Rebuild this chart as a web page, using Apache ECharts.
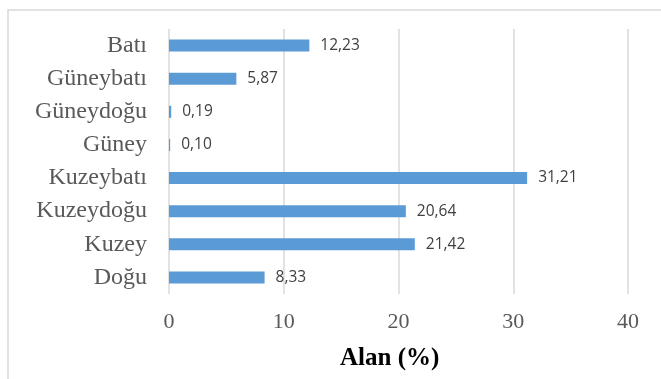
<!DOCTYPE html>
<html>
<head>
<meta charset="utf-8">
<script src="https://cdn.jsdelivr.net/npm/echarts@6/dist/echarts.min.js"></script>
<style>
  html, body { margin: 0; padding: 0; background: #fff; }
  #chart { width: 661px; height: 379px; }
</style>
</head>
<body>
<div id="chart"></div>
<script>
// Directions, bottom to top as drawn on the category axis
const categories = ['Doğu', 'Kuzey', 'Kuzeydoğu', 'Kuzeybatı', 'Güney', 'Güneydoğu', 'Güneybatı', 'Batı'];
const areaShare = [8.33, 21.42, 20.64, 31.21, 0.10, 0.19, 5.87, 12.23];
const xTicks = [0, 10, 20, 30, 40];

const chart = echarts.init(document.getElementById('chart'));
chart.setOption({
  backgroundColor: '#fff',
  animation: false,
  graphic: [
    {
      type: 'polyline',
      shape: { points: [[8, 379], [8, 10], [661, 10]] },
      style: { stroke: '#d9d9d9', lineWidth: 1.5, fill: null }
    },
    {
      type: 'text',
      left: 340, top: 346,
      style: {
        text: 'Alan (%)',
        font: 'bold 25px "Liberation Serif", "Times New Roman", serif',
        fill: '#000'
      }
    }
  ],
  grid: { left: 169, right: 33, top: 29, bottom: 85, containLabel: false },
  xAxis: {
    type: 'value',
    min: xTicks[0],
    max: xTicks[xTicks.length - 1],
    interval: 10,
    axisLine: { show: false },
    axisTick: { show: false },
    splitLine: { show: true, lineStyle: { color: '#d9d9d9', width: 1.5 } },
    axisLabel: {
      margin: 17,
      color: '#595959',
      fontFamily: '"Liberation Serif", "Times New Roman", serif',
      fontSize: 22
    }
  },
  yAxis: {
    type: 'category',
    data: categories,
    axisLine: { show: false },
    axisTick: { show: false },
    axisLabel: {
      margin: 22,
      color: '#595959',
      fontFamily: '"Liberation Serif", "Times New Roman", serif',
      fontSize: 24
    }
  },
  series: [{
    type: 'bar',
    data: areaShare,
    barWidth: 12,
    itemStyle: { color: '#5b9bd5' },
    label: {
      show: true,
      position: 'right',
      distance: 11,
      color: '#404040',
      fontFamily: '"Open Sans", "Liberation Sans", sans-serif',
      fontSize: 15.5,
      formatter: p => p.value.toFixed(2).replace('.', ',')
    }
  }]
});
</script>
</body>
</html>
